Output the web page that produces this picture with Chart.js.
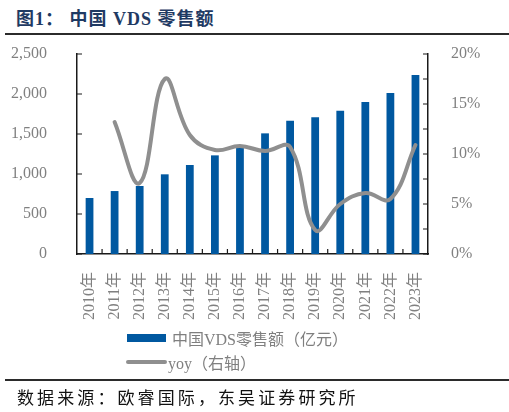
<!DOCTYPE html>
<html lang="zh">
<head>
    <meta charset="UTF-8">
    <title>中国 VDS 零售额</title>
    <script src="https://cdn.jsdelivr.net/npm/chart.js"></script>
    <style>
        body {
            margin: 0;
            width: 509px;
            height: 412px;
            position: relative;
            background: #fff;
            overflow: hidden;
            font-family: "Liberation Serif", "Noto Sans CJK SC", serif;
        }

        .title {
            position: absolute;
            left: 16px;
            top: 4px;
            font-size: 18px;
            font-weight: bold;
            color: #1f3a63;
            letter-spacing: 1px;
        }

        .rule {
            position: absolute;
            left: 5px;
            right: 0;
            height: 2px;
            background: #2b2b2b;
        }

        #chart-box {
            position: absolute;
            left: 0;
            top: 40px;
            line-height: 0;
        }

        canvas { display: block; }

        .legend {
            position: absolute;
            left: 126px;
            top: 326px;
            color: #7f7f7f;
            font-size: 16px;
        }

        .legend-item {
            display: flex;
            align-items: center;
            height: 24px;
        }

        .swatch-bar {
            width: 39px;
            height: 8px;
            margin: 0 6px 0 1px;
        }

        .swatch-line {
            width: 41px;
            height: 4px;
            border-radius: 2px;
            margin-right: 1px;
        }

        .source {
            position: absolute;
            left: 17px;
            top: 384px;
            font-size: 17px;
            letter-spacing: 3.1px;
            color: #111;
        }
    </style>
</head>
<body>
    <div class="title">图1：&nbsp;中国 VDS 零售额</div>
    <div class="rule" style="top: 33px;"></div>

    <div id="chart-box">
        <canvas id="vds-chart" width="509" height="290"></canvas>
    </div>

    <div class="legend" id="legend"></div>

    <div class="rule" style="top: 379px;"></div>
    <div class="source">数据来源：欧睿国际，东吴证券研究所</div>

    <script>
        // values
        const years = ['2010年', '2011年', '2012年', '2013年', '2014年', '2015年', '2016年',
                       '2017年', '2018年', '2019年', '2020年', '2021年', '2022年', '2023年'];
        const retailSales = [700, 787, 850, 996, 1112, 1233, 1333, 1508, 1667, 1708, 1792, 1900, 2012, 2237];
        const yoyGrowth = [null, 13.2, 7.1, 17.5, 11.9, 10.4, 10.8, 10.3, 10.7, 2.4, 5.0, 6.1, 5.5, 10.9];
        const salesTicks = [0, 500, 1000, 1500, 2000, 2500];
        const yoyTicks = [0, 5, 10, 15, 20];

        const barColor = '#0058a0';
        const lineColor = '#8f8f8f';
        const labelColor = '#808080';
        const axisColor = '#1a1a1a';
        const tickFont = { family: '"Liberation Serif", "Noto Sans CJK SC", serif', size: 16 };

        // short tick marks pointing into the plot, like the original
        const innerTicks = {
            id: 'innerTicks',
            afterDatasetsDraw(chart) {
                const { ctx, chartArea, scales } = chart;
                const len = 5;
                ctx.save();
                ctx.strokeStyle = axisColor;
                ctx.lineWidth = 1.2;
                ctx.beginPath();
                salesTicks.forEach(v => {
                    const y = scales.y.getPixelForValue(v);
                    ctx.moveTo(chartArea.left, y);
                    ctx.lineTo(chartArea.left + len, y);
                });
                for (let v = 0; v <= 20; v += 2.5) {
                    const y = scales.y1.getPixelForValue(v);
                    ctx.moveTo(chartArea.right, y);
                    ctx.lineTo(chartArea.right - len, y);
                }
                for (let i = 1; i < years.length; i++) {
                    const x = (scales.x.getPixelForValue(i - 1) + scales.x.getPixelForValue(i)) / 2;
                    ctx.moveTo(x, chartArea.bottom);
                    ctx.lineTo(x, chartArea.bottom - len);
                }
                ctx.stroke();
                ctx.restore();
            }
        };

        const chart = new Chart(document.getElementById('vds-chart'), {
            data: {
                labels: years,
                datasets: [{
                    type: 'bar',
                    label: '中国VDS零售额（亿元）',
                    data: retailSales,
                    backgroundColor: barColor,
                    barPercentage: 0.31,
                    categoryPercentage: 1,
                    yAxisID: 'y',
                    order: 1,
                }, {
                    type: 'line',
                    label: 'yoy（右轴）',
                    data: yoyGrowth,
                    borderColor: lineColor,
                    borderWidth: 4,
                    borderCapStyle: 'round',
                    tension: 0.4,
                    pointRadius: 0,
                    fill: false,
                    yAxisID: 'y1',
                    order: 0,
                }],
            },
            options: {
                responsive: false,
                animation: false,
                layout: { padding: { top: 14, left: 0, right: 0, bottom: 0 } },
                plugins: {
                    legend: { display: false },
                    tooltip: { enabled: false },
                },
                scales: {
                    x: {
                        grid: { display: false },
                        border: { display: true, color: axisColor, width: 1.5 },
                        ticks: {
                            color: labelColor,
                            font: tickFont,
                            minRotation: 90,
                            maxRotation: 90,
                            autoSkip: false,
                            padding: 10,
                        },
                        afterFit(scale) {
                            scale.height = 76;
                            scale.paddingTop = 0;
                        },
                    },
                    y: {
                        position: 'left',
                        min: 0,
                        max: 2500,
                        grid: { display: false },
                        border: { display: true, color: axisColor, width: 1.5 },
                        afterBuildTicks(scale) { scale.ticks = salesTicks.map(v => ({ value: v })); },
                        ticks: {
                            color: labelColor,
                            font: tickFont,
                            padding: 22,
                            callback: v => v.toLocaleString('en-US'),
                        },
                        afterFit(scale) {
                            scale.width = 77;
                            scale.paddingTop = 0;
                        },
                    },
                    y1: {
                        position: 'right',
                        min: 0,
                        max: 20,
                        grid: { display: false },
                        border: { display: true, color: axisColor, width: 1.5 },
                        afterBuildTicks(scale) { scale.ticks = yoyTicks.map(v => ({ value: v })); },
                        ticks: {
                            color: labelColor,
                            font: tickFont,
                            padding: 15,
                            callback: v => v + '%',
                        },
                        afterFit(scale) {
                            scale.width = 81;
                            scale.paddingTop = 0;
                        },
                    },
                },
            },
            plugins: [innerTicks],
        });

        // legend stacked under the chart, built from the datasets
        const legendEl = document.getElementById('legend');
        chart.data.datasets.forEach(ds => {
            const item = document.createElement('div');
            item.className = 'legend-item';
            const sw = document.createElement('span');
            if (ds.type === 'bar') {
                sw.className = 'swatch-bar';
                sw.style.background = ds.backgroundColor;
            } else {
                sw.className = 'swatch-line';
                sw.style.background = ds.borderColor;
            }
            const txt = document.createElement('span');
            txt.textContent = ds.label;
            item.appendChild(sw);
            item.appendChild(txt);
            legendEl.appendChild(item);
        });
    </script>
</body>
</html>
